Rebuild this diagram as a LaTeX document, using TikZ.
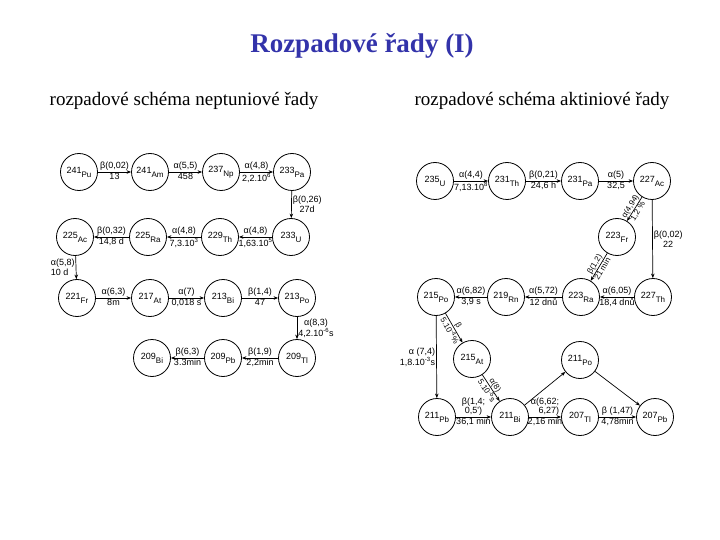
\documentclass[tikz,border=0pt]{standalone}
\usepackage{fontspec}
\setmainfont{Liberation Serif}
\newfontfamily\lblfont{Liberation Sans}
\usetikzlibrary{arrows.meta}
\definecolor{titleBlue}{HTML}{3333AA}
\newcommand{\nuk}[2]{\raisebox{1.5pt}{#1}\raisebox{-2.5pt}{\fontsize{8}{8}\selectfont #2}}
\tikzset{
  nuc/.style={draw, circle, minimum size=37pt, inner sep=0pt, line width=0.8pt,
              font=\lblfont\fontsize{9}{10}\selectfont},
  arr/.style={-{Stealth[length=4.5pt,width=3.5pt]}, line width=0.7pt},
  lbl/.style={font=\lblfont\fontsize{9}{9.5}\selectfont, inner sep=1pt, align=center},
  slbl/.style={lbl, sloped, font=\lblfont\fontsize{8}{8.5}\selectfont, inner sep=0.5pt},
}

\begin{document}
\begin{tikzpicture}[x=1pt,y=-1pt]
    \useasboundingbox (0,0) rectangle (720,540);
    \node[font=\bfseries\fontsize{27}{30}\selectfont, text=titleBlue] (title) at (362,46)
      {Rozpadové řady (I)};
    \node[font=\fontsize{19}{22}\selectfont] (subL) at (184,101) {rozpadové schéma neptuniové řady};
    \node[font=\fontsize{19}{22}\selectfont] (subR) at (542,101) {rozpadové schéma aktiniové řady};

    % neptuniova rada
    \node[nuc] (pu241) at (79,172) {\nuk{241}{Pu}};
    \node[nuc] (am241) at (150,172) {\nuk{241}{Am}};
    \node[nuc] (np237) at (221,172) {\nuk{237}{Np}};
    \node[nuc] (pa233) at (292,172) {\nuk{233}{Pa}};
    \node[nuc] (ac225) at (75,237) {\nuk{225}{Ac}};
    \node[nuc] (ra225) at (148,237) {\nuk{225}{Ra}};
    \node[nuc] (th229) at (220,237) {\nuk{229}{Th}};
    \node[nuc] (u233) at (291,237) {\nuk{233}{U}};
    \node[nuc] (fr221) at (77,298) {\nuk{221}{Fr}};
    \node[nuc] (at217) at (150,298) {\nuk{217}{At}};
    \node[nuc] (bi213) at (223,298) {\nuk{213}{Bi}};
    \node[nuc] (po213) at (297,298) {\nuk{213}{Po}};
    \node[nuc] (bi209) at (152,358) {\nuk{209}{Bi}};
    \node[nuc] (pb209) at (223,358) {\nuk{209}{Pb}};
    \node[nuc] (tl209) at (297,358) {\nuk{209}{Tl}};
    \draw[arr] (pu241) -- node[lbl,above]{β(0,02)} node[lbl,below]{13} (am241);
    \draw[arr] (am241) -- node[lbl,above]{α(5,5)} node[lbl,below]{458} (np237);
    \draw[arr] (np237) -- node[lbl,above]{α(4,8)} node[lbl,below]{2,2.10\textsuperscript{6}} (pa233);
    \draw[arr] (pa233) -- node[lbl,right]{β(0,26)\\27d} (u233);
    \draw[arr] (u233) -- node[lbl,above]{α(4,8)} node[lbl,below]{1,63.10\textsuperscript{5}} (th229);
    \draw[arr] (th229) -- node[lbl,above]{α(4,8)} node[lbl,below]{7,3.10\textsuperscript{3}} (ra225);
    \draw[arr] (ra225) -- node[lbl,above]{β(0,32)} node[lbl,below]{14,8 d} (ac225);
    \draw[arr] (ac225) -- node[lbl,left,align=left]{α(5,8)\\10 d} (fr221);
    \draw[arr] (fr221) -- node[lbl,above]{α(6,3)} node[lbl,below]{8m} (at217);
    \draw[arr] (at217) -- node[lbl,above]{α(7)} node[lbl,below]{0,018 s} (bi213);
    \draw[arr] (bi213) -- node[lbl,above]{β(1,4)} node[lbl,below]{47} (po213);
    \draw[arr] (po213) -- node[lbl,right]{α(8,3)\\4,2.10\textsuperscript{-6}s} (tl209);
    \draw[arr] (tl209) -- node[lbl,above]{β(1,9)} node[lbl,below]{2,2min} (pb209);
    \draw[arr] (pb209) -- node[lbl,above]{β(6,3)} node[lbl,below]{3.3min} (bi209);

    % aktiniova rada
    \node[nuc] (u235) at (435,181) {\nuk{235}{U}};
    \node[nuc] (th231) at (507,181) {\nuk{231}{Th}};
    \node[nuc] (pa231) at (580,181) {\nuk{231}{Pa}};
    \node[nuc] (ac227) at (652,181) {\nuk{227}{Ac}};
    \node[nuc] (fr223) at (617,237) {\nuk{223}{Fr}};
    \node[nuc] (po215) at (436,297) {\nuk{215}{Po}};
    \node[nuc] (rn219) at (506,297) {\nuk{219}{Rn}};
    \node[nuc] (ra223) at (581,297) {\nuk{223}{Ra}};
    \node[nuc] (th227) at (653,297) {\nuk{227}{Th}};
    \node[nuc] (at215) at (472,359) {\nuk{215}{At}};
    \node[nuc] (po211) at (580,360) {\nuk{211}{Po}};
    \node[nuc] (pb211) at (437,417) {\nuk{211}{Pb}};
    \node[nuc] (bi211) at (510,417) {\nuk{211}{Bi}};
    \node[nuc] (tl207) at (580,417) {\nuk{207}{Tl}};
    \node[nuc] (pb207) at (655,417) {\nuk{207}{Pb}};
    \draw[arr] (u235) -- node[lbl,above]{α(4,4)} node[lbl,below]{7,13.10\textsuperscript{8}} (th231);
    \draw[arr] (th231) -- node[lbl,above]{β(0,21)} node[lbl,below]{24,6 h} (pa231);
    \draw[arr] (pa231) -- node[lbl,above]{α(5)} node[lbl,below]{32,5} (ac227);
    \draw[arr] (ac227) -- node[slbl,above]{α(4,94)} node[slbl,below]{1,2 \%} (fr223);
    \draw[arr] (ac227) -- node[lbl,right]{β(0,02)\\22} (th227);
    \draw[arr] (fr223) -- node[slbl,above]{β(1,2)} node[slbl,below]{21 min} (ra223);
    \draw[arr] (th227) -- node[lbl,above]{α(6,05)} node[lbl,below]{18,4 dnů} (ra223);
    \draw[arr] (ra223) -- node[lbl,above]{α(5,72)} node[lbl,below]{12 dnů} (rn219);
    \draw[arr] (rn219) -- node[lbl,above]{α(6,82)} node[lbl,below]{3,9 s} (po215);
    \draw[arr] (po215) -- node[lbl,left,align=right]{α (7,4)\\1,8.10\textsuperscript{-3}s} (pb211);
    \draw[arr] (po215) -- node[slbl,above]{β} node[slbl,below]{5.10\textsuperscript{-4}\%} (at215);
    \draw[arr] (at215) -- node[slbl,above]{α(8)} node[slbl,below]{5.10\textsuperscript{-5}s} (bi211);
    \draw[arr] (pb211) -- node[lbl,above]{β(1,4;\\0,5')} node[lbl,below]{36,1 min} (bi211);
    \draw[arr] (bi211) -- node[lbl,above,align=right]{α(6,62;\\6,27)} node[lbl,below]{2,16 min} (tl207);
    \draw[arr] (bi211) -- (po211);
    \draw[arr] (po211) -- (pb207);
    \draw[arr] (tl207) -- node[lbl,above]{β (1,47)} node[lbl,below]{4,78min} (pb207);
\end{tikzpicture}
\end{document}
